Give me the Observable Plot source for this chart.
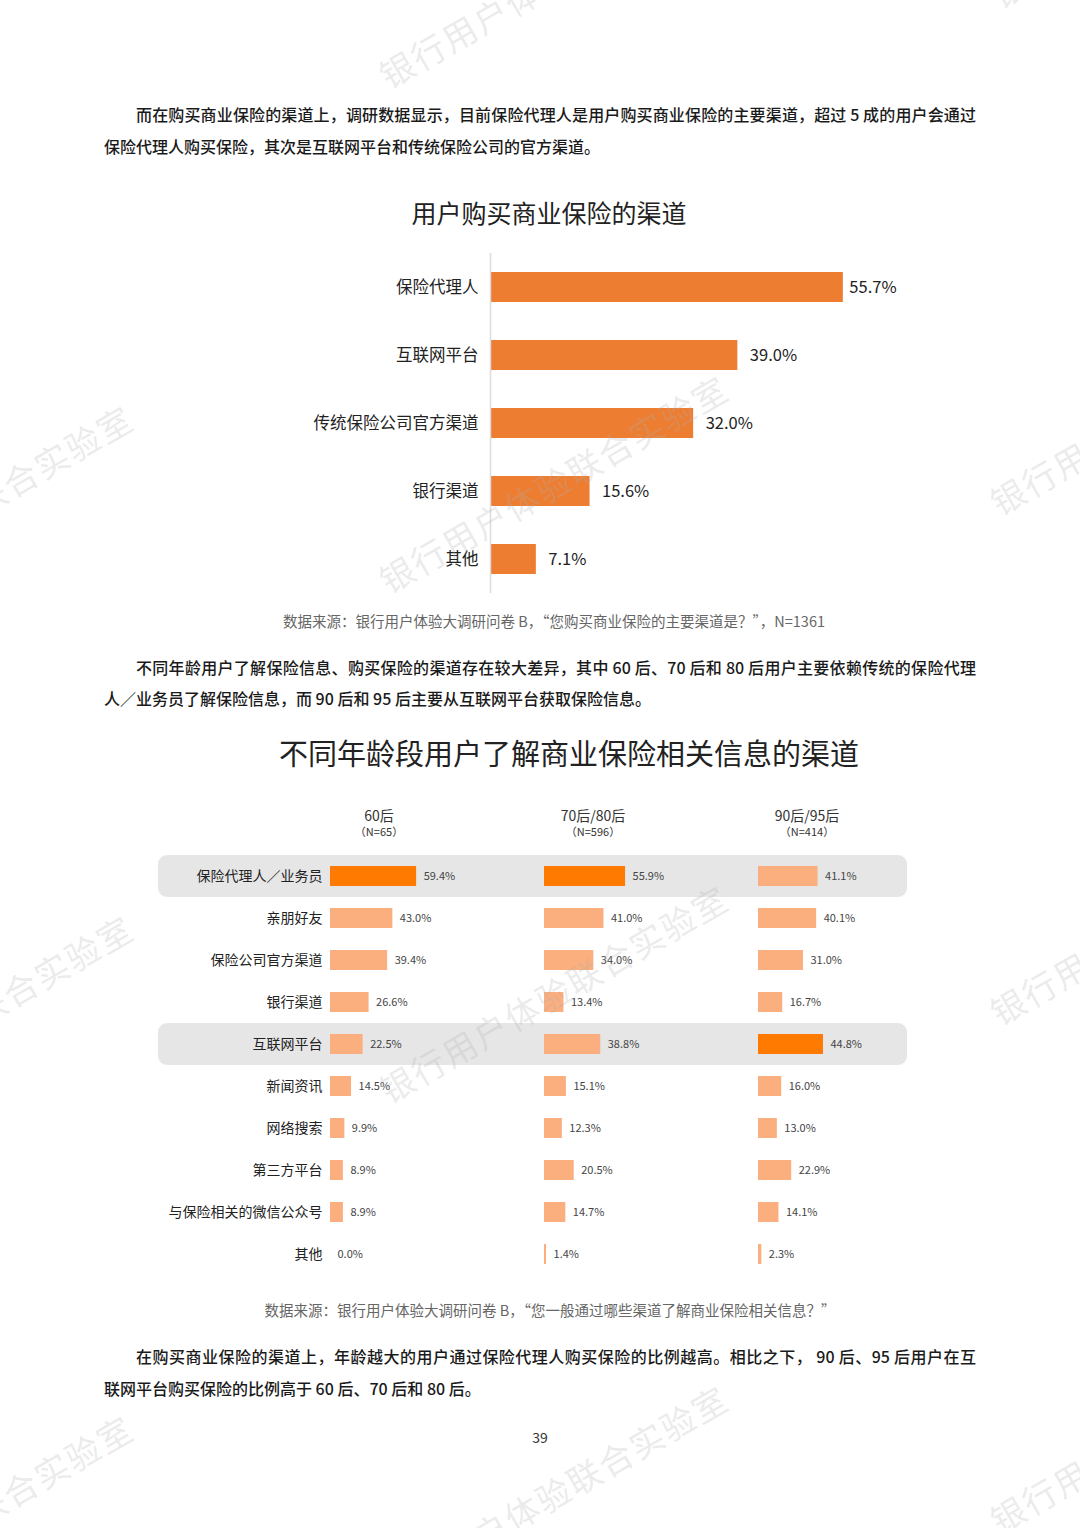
<!DOCTYPE html>
<html><head><meta charset="utf-8">
<script src="https://cdn.jsdelivr.net/npm/d3@7"></script>
<script src="https://cdn.jsdelivr.net/npm/@observablehq/plot@0.6"></script>
<style>
html,body{margin:0;padding:0;background:#fff;}
#page{position:relative;width:1080px;height:1528px;overflow:hidden;font-family:"Noto Sans CJK SC","Noto Sans",sans-serif;color:#222;}
.p{position:absolute;left:104px;width:872px;font-size:16px;line-height:32px;height:32px;font-weight:500;color:#1a1a1a;white-space:nowrap;}
.p.first{left:136px;width:840px;text-align:justify;text-align-last:justify;white-space:normal;overflow:hidden;}
.c{position:absolute;text-align:center;white-space:nowrap;}
.svgwrap{position:absolute;left:0;width:1080px;}
.svgwrap svg{display:block;}
.wm{position:absolute;font-size:34px;letter-spacing:2px;color:rgba(175,175,175,0.25);white-space:nowrap;transform-origin:0 100%;transform:rotate(-30deg);pointer-events:none;line-height:40px;z-index:10;}
</style>
</head><body>
<div id="page">
  <div class="p first" style="top:98px">而在购买商业保险的渠道上，调研数据显示，目前保险代理人是用户购买商业保险的主要渠道，超过 5 成的用户会通过</div>
  <div class="p" style="top:130px">保险代理人购买保险，其次是互联网平台和传统保险公司的官方渠道。</div>

  <div class="c" id="title1" style="left:149px;width:800px;top:194px;font-size:25px;line-height:36px;color:#222">用户购买商业保险的渠道</div>
  <div class="svgwrap" id="chart1" style="top:240px"></div>
  <div class="c" style="left:154px;width:800px;top:611px;font-size:14.5px;line-height:20px;color:#666">数据来源：银行用户体验大调研问卷 B，“您购买商业保险的主要渠道是？”，N=1361</div>

  <div class="p first" style="top:651px">不同年龄用户了解保险信息、购买保险的渠道存在较大差异，其中 60 后、70 后和 80 后用户主要依赖传统的保险代理</div>
  <div class="p" style="top:682px">人／业务员了解保险信息，而 90 后和 95 后主要从互联网平台获取保险信息。</div>

  <div class="c" style="left:169px;width:800px;top:732px;font-size:29px;line-height:40px;color:#222">不同年龄段用户了解商业保险相关信息的渠道</div>
  <div class="svgwrap" id="chart2bg" style="top:795px"></div>
  <div class="svgwrap" id="chart2" style="top:795px"></div>
  <div class="c" style="left:150px;width:800px;top:1300px;font-size:14.5px;line-height:20px;color:#666">数据来源：银行用户体验大调研问卷 B，“您一般通过哪些渠道了解商业保险相关信息？”</div>

  <div class="p first" style="top:1340px">在购买商业保险的渠道上，年龄越大的用户通过保险代理人购买保险的比例越高。相比之下， 90 后、95 后用户在互</div>
  <div class="p" style="top:1372px">联网平台购买保险的比例高于 60 后、70 后和 80 后。</div>

  <div class="c" style="left:440px;width:200px;top:1427px;font-size:14px;line-height:20px;color:#333">39</div>
  <div id="wms"></div>
</div>
<script>
// ---- Chart 1 data ----
const channels1 = ["保险代理人", "互联网平台", "传统保险公司官方渠道", "银行渠道", "其他"];
const share1 = [55.7, 39.0, 32.0, 15.6, 7.1];

// ---- Chart 2 data ----
const channels2 = ["保险代理人／业务员", "亲朋好友", "保险公司官方渠道", "银行渠道", "互联网平台", "新闻资讯", "网络搜索", "第三方平台", "与保险相关的微信公众号", "其他"];
const ageGroups = ["60后", "70后/80后", "90后/95后"];
const sampleSizes = ["（N=65）", "（N=596）", "（N=414）"];
const values60 = [59.4, 43.0, 39.4, 26.6, 22.5, 14.5, 9.9, 8.9, 8.9, 0.0];
const values7080 = [55.9, 41.0, 34.0, 13.4, 38.8, 15.1, 12.3, 20.5, 14.7, 1.4];
const values9095 = [41.1, 40.1, 31.0, 16.7, 44.8, 16.0, 13.0, 22.9, 14.1, 2.3];
const highlightRows = ["保险代理人／业务员", "互联网平台"];
const emphasizedCells = [["60后", "保险代理人／业务员"], ["70后/80后", "保险代理人／业务员"], ["90后/95后", "互联网平台"]];

const FONT = '"Noto Sans CJK SC","Noto Sans",sans-serif';

// chart 1
const d1 = channels1.map((c, i) => ({channel: c, value: share1[i], top: i === 0}));
const plot1 = Plot.plot({
  width: 1080, height: 360,
  marginTop: 13, marginBottom: 7, marginLeft: 491, marginRight: 0,
  style: {background: "transparent", fontFamily: FONT, color: "#222", overflow: "visible"},
  x: {domain: [0, 60], range: [491, 870], axis: null},
  y: {domain: channels1, paddingInner: 0.56, paddingOuter: 0.28, label: null},
  marks: [
    Plot.barX(d1, {x: "value", y: "channel", fill: "#ED7D31"}),
    Plot.ruleX([0], {stroke: "#dcdcdc", strokeWidth: 1.5, dx: -1}),
    Plot.text(d1.filter(d => d.top), {x: "value", y: "channel", text: d => d.value.toFixed(1) + "%", dx: 6, textAnchor: "start", fontSize: 16.5, fill: "#222"}),
    Plot.text(d1.filter(d => !d.top), {x: "value", y: "channel", text: d => d.value.toFixed(1) + "%", dx: 12, textAnchor: "start", fontSize: 16.5, fill: "#222"}),
    Plot.axisY({tickSize: 0, tickPadding: 13, fontSize: 16.5, label: null})
  ]
});
document.getElementById("chart1").appendChild(plot1);

// chart 2
const valuesByGroup = [values60, values7080, values9095];
const d2 = [];
ageGroups.forEach((g, gi) => channels2.forEach((c, ci) => d2.push({
  group: g, channel: c, value: valuesByGroup[gi][ci],
  emph: emphasizedCells.some(([eg, ec]) => eg === g && ec === c)
})));
const headers = ageGroups.map((g, i) => ({group: g, n: sampleSizes[i]}));

const bg = Plot.plot({
  width: 1080, height: 490,
  marginTop: 60, marginBottom: 10, marginLeft: 158, marginRight: 173,
  style: {background: "transparent"},
  y: {domain: channels2, paddingInner: 0, paddingOuter: 0, axis: null},
  marks: [
    Plot.cell(highlightRows, {y: d => d, fill: "#e6e6e6", rx: 9})
  ]
});
document.getElementById("chart2bg").appendChild(bg);

const plot2 = Plot.plot({
  width: 1080, height: 490,
  marginTop: 60, marginBottom: 10, marginLeft: 329, marginRight: 176,
  style: {background: "transparent", fontFamily: FONT, color: "#222", overflow: "visible"},
  fx: {domain: ageGroups, paddingInner: 0.3224, paddingOuter: 0, axis: null},
  x: {domain: [0, 100], axis: null},
  y: {domain: channels2, paddingInner: 0.52, paddingOuter: 0.26, label: null},
  marks: [
    Plot.barX(d2, {fx: "group", x: "value", y: "channel", fill: d => d.emph ? "#FF7A00" : "#FBAE7E"}),
    Plot.text(d2, {fx: "group", x: "value", y: "channel", text: d => d.value.toFixed(1) + "%", dx: 7, textAnchor: "start", fontSize: 11, fill: "#444"}),
    Plot.text(headers, {fx: "group", frameAnchor: "top", dx: -24, dy: -44, text: "group", fontSize: 14, fill: "#333"}),
    Plot.text(headers, {fx: "group", frameAnchor: "top", dx: -24, dy: -27, text: "n", fontSize: 11, fill: "#333"}),
    Plot.axisY({tickSize: 0, tickPadding: 8, fontSize: 14, label: null})
  ]
});
document.getElementById("chart2").appendChild(plot2);

// watermarks
const wmText = "银行用户体验联合实验室";
const wmStarts = [[392, 95], [392, 600], [392, 1110], [392, 1610], [-203, 630], [-203, 1140], [-203, 1640], [-300, 140], [1003, 15], [1003, 522], [1003, 1032], [1003, 1540]];
const wmBox = document.getElementById("wms");
wmStarts.forEach(([x, y]) => {
  const s = document.createElement("div");
  s.className = "wm";
  s.textContent = wmText;
  s.style.left = x + "px";
  s.style.top = (y - 40) + "px";
  wmBox.appendChild(s);
});
</script>
</body></html>
